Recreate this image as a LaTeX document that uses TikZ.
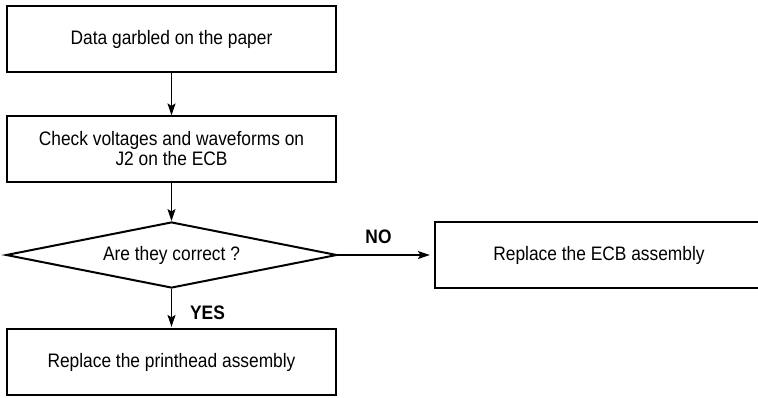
\documentclass[tikz,border=0pt]{standalone}
\usepackage{fontspec}
\setmainfont{Liberation Sans}[FakeStretch=0.89]
\usetikzlibrary{shapes.geometric,arrows.meta}

\begin{document}
\begin{tikzpicture}[x=1pt,y=1pt,yscale=-1,xscale=1,
    txt/.style={font=\fontsize{19.5}{20}\selectfont},
    box/.style={txt,draw,line width=1.2pt,minimum width=329pt,minimum height=66pt,inner sep=0pt,align=center},
    query/.style={txt,diamond,draw,line width=2pt,minimum width=331pt,minimum height=66pt,inner sep=0pt,shape aspect=5},
    flow/.style={line width=1.2pt,-{Stealth[length=12pt,width=8pt,inset=2.5pt]}},
    lbl/.style={font=\fontsize{19.5}{20}\selectfont\bfseries,inner sep=0pt}]
        %set diagram size 758 x 397
        \useasboundingbox (0,0) rectangle (758,397);

        % Boxes
        \node [box] (garbled) at (171.5,39) {Data garbled on the paper};
        \node [box] (check) at (171.5,149) {Check voltages and waveforms on\\J2 on the ECB};
        % Decision
        \node [query] (correct) at (171.5,255) {Are they correct ?};
        \node [box,minimum width=328pt] (ecb) at (599,255) {Replace the ECB assembly};
        \node [box] (printhead) at (171.5,362) {Replace the printhead assembly};

        % Arrows
        \draw [flow] (garbled) -- (check);
        \draw [flow] (check) -- (correct);
        \draw [flow,shorten >=1.5pt] (correct) -- node [lbl,anchor=west,pos=0.6,xshift=18pt] {YES} (printhead);
        \draw [flow,shorten >=4.5pt] (correct) -- node [lbl,anchor=south,pos=0.42,yshift=10.5pt] {NO} (ecb);

\end{tikzpicture}
\end{document}
